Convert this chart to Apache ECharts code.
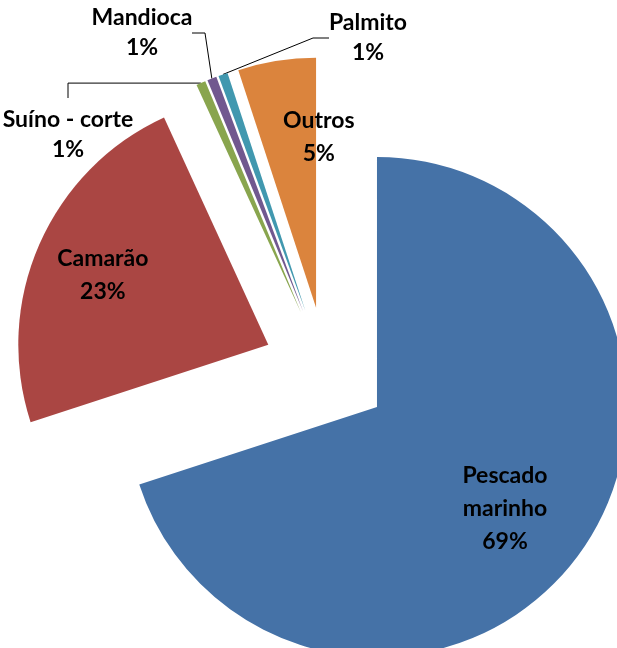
<!DOCTYPE html>
<html>
<head>
<meta charset="utf-8">
<script src="https://cdn.jsdelivr.net/npm/echarts@6/dist/echarts.min.js"></script>
<style>
  html, body { margin: 0; padding: 0; background: #fff; }
  #chart { width: 617px; height: 648px; }
</style>
</head>
<body>
<div id="chart"></div>
<script>
const categories = ["Pescado\nmarinho", "Camarão", "Suíno - corte", "Mandioca", "Palmito", "Outros"];
const values = [69.5, 23, 0.6, 0.6, 0.6, 5];
const percentLabels = ["69%", "23%", "1%", "1%", "1%", "5%"];
const colors = ["#4572a7", "#aa4643", "#89a54e", "#71588f", "#4198af", "#db843d"];

const CENTER = [326, 370];
const R = 250;
const EXPLODE = 63;

// small slices get a callout outside, the rest are labelled inside
const isSmall = (i) => values[i] < 2;

const chart = echarts.init(document.getElementById("chart"));

const labelFont = {
  fontFamily: "Lato",
  fontWeight: "bold",
  fontSize: 23,
  color: "#000",
};

const fmt = (p) => p.name + "\n" + percentLabels[p.dataIndex];

// small horizontal nudges for the inside labels (Excel's "best fit")
const insideNudge = { 0: -12, 1: -7, 5: 30 };

// where the callouts go (label anchor + leader bend)
const callouts = {
  2: { x: 68, y: 105, bend: (p) => [[68, p[1]], [68, 98]] },
  3: { x: 142, y: 3, bend: (p) => [[205, 33], [192, 33]] },
  4: { x: 368, y: 8, bend: (p) => [[313, 38], [329, 38]] },
};

const base = {
  type: "pie",
  center: CENTER,
  startAngle: 90,
  clockwise: true,
  emphasis: { disabled: true },
  avoidLabelOverlap: false,
};

chart.setOption({
  animation: false,
  series: [
    {
      ...base,
      radius: [0, R],
      selectedMode: "multiple",
      selectedOffset: EXPLODE,
      label: { show: false },
      labelLine: { show: false },
      data: categories.map((name, i) => ({
        name: name,
        value: values[i],
        selected: true,
        itemStyle: { color: colors[i] },
      })),
    },
    {
      // transparent ring, its middle sits where the exploded slices' labels go
      ...base,
      silent: true,
      radius: [R + EXPLODE - 160, R + EXPLODE],
      itemStyle: { color: "rgba(0,0,0,0)" },
      data: categories.map((name, i) => ({
        name: name,
        value: values[i],
        label: { show: !isSmall(i) },
      })),
      label: {
        position: "inside",
        ...labelFont,
        lineHeight: 33,
        formatter: fmt,
      },
      labelLine: { show: false },
      labelLayout: (params) => ({ dx: insideNudge[params.dataIndex] || 0 }),
    },
    {
      // transparent disc reaching the exploded rim, used for the callouts
      ...base,
      silent: true,
      radius: [0, R + EXPLODE],
      itemStyle: { color: "rgba(0,0,0,0)" },
      data: categories.map((name, i) => ({
        name: name,
        value: values[i],
        label: { show: isSmall(i) },
        labelLine: { show: isSmall(i) },
      })),
      label: {
        position: "outside",
        ...labelFont,
        lineHeight: 30,
        formatter: fmt,
      },
      labelLine: {
        length: 10,
        length2: 10,
        lineStyle: { color: "#000", width: 1 },
      },
      labelLayout: (params) => {
        const c = callouts[params.dataIndex];
        if (!c || !params.labelLinePoints) return {};
        const p0 = params.labelLinePoints[0];
        return {
          x: c.x,
          y: c.y,
          align: "center",
          verticalAlign: "top",
          labelLinePoints: [p0].concat(c.bend(p0)),
        };
      },
    },
  ],
});
</script>
</body>
</html>
